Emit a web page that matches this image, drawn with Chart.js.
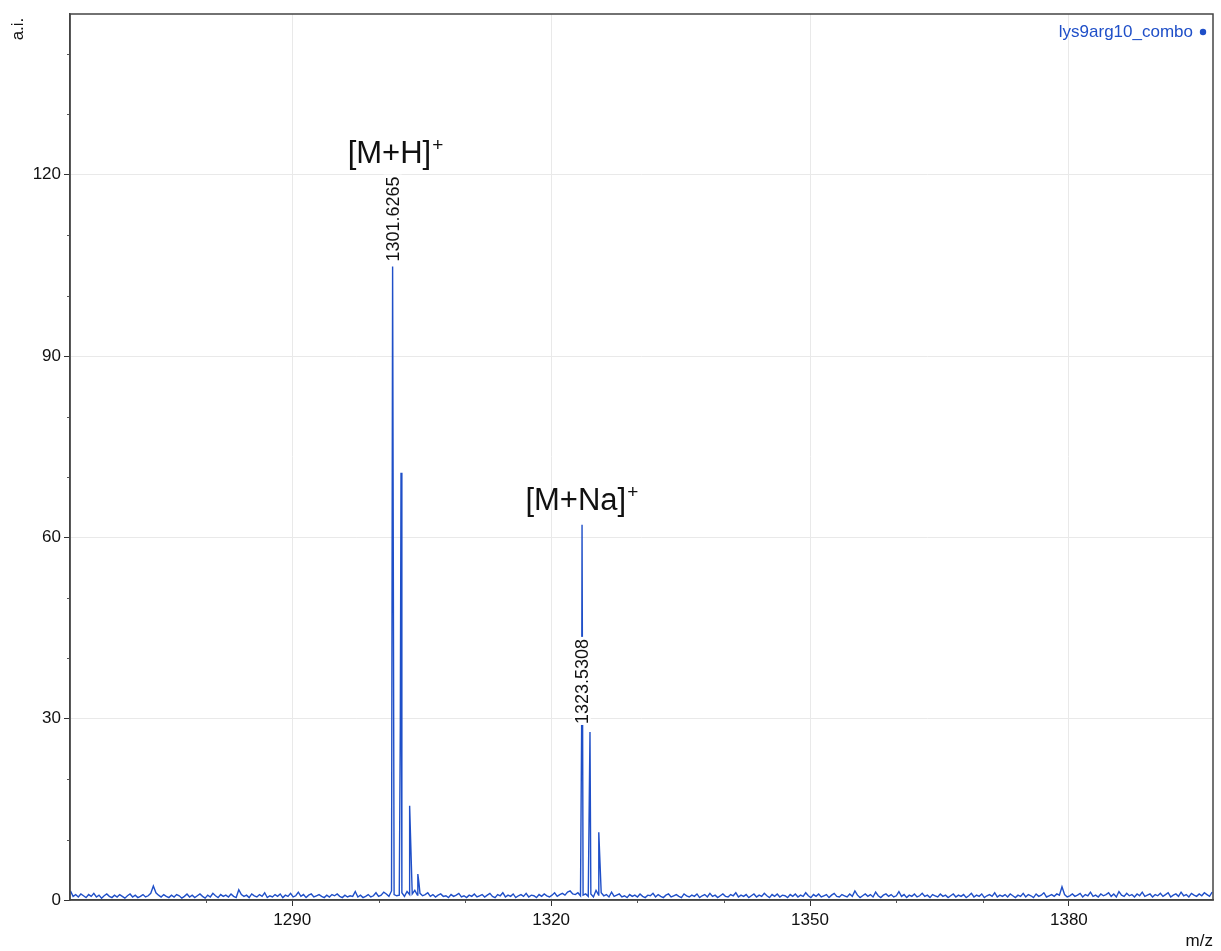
<!DOCTYPE html>
<html>
<head>
<meta charset="utf-8">
<title>lys9arg10_combo</title>
<script src="https://cdn.jsdelivr.net/npm/chart.js@4"></script>
<style>
  html, body { margin: 0; padding: 0; background: #fff; }
  canvas { display: block; }
</style>
</head>
<body>
<canvas id="spectrum" width="1221" height="951" style="width:1221px;height:951px"></canvas>
<script>
// baseline trace, sampled every 0.3 m/z starting at 1264.3
const noiseStart = 1264.3;
const noiseStep = 0.3;
const noiseIntensity = [
  1.5,0.6,0.9,0.5,1.0,0.7,0.4,0.9,0.6,1.1,0.5,0.8,0.3,0.7,1.0,0.6,0.4,0.8,0.5,0.9,
  0.6,0.3,0.7,1.0,0.5,0.8,0.4,0.6,0.9,0.5,0.7,1.1,2.3,1.2,0.8,0.5,0.9,0.6,0.4,0.8,
  0.5,0.9,0.7,0.3,0.6,1.0,0.5,0.8,0.4,0.7,1.0,0.6,0.3,0.8,0.5,1.1,0.7,0.4,0.9,0.6,
  0.8,0.5,1.0,0.6,0.4,1.7,0.9,0.6,0.8,0.4,1.0,0.7,0.5,0.9,0.6,1.2,0.4,0.7,0.5,0.9,
  0.6,1.0,0.4,0.8,0.6,1.1,0.5,0.7,1.3,0.6,0.9,0.4,0.8,1.0,0.5,0.7,0.9,0.6,0.4,0.8,
  0.5,0.9,0.7,1.0,0.6,0.4,0.8,0.5,0.7,0.6,1.4,0.5,0.8,0.4,0.6,0.9,0.5,0.7,1.2,0.6,
  0.8,1.3,1.0,0.6,1.5,0.9,0.7,0.8,1.2,0.6,1.4,0.9,1.0,1.6,0.8,1.1,0.7,0.9,1.2,0.6,
  0.9,0.5,0.8,1.0,0.6,0.7,0.4,0.9,0.6,0.8,1.1,0.5,0.7,0.4,0.8,0.6,1.0,0.5,0.7,0.9,
  0.5,0.8,1.1,0.6,0.4,0.9,0.7,1.2,0.5,0.8,0.6,1.0,0.4,0.7,0.9,0.6,1.1,0.5,0.8,0.7,
  0.4,0.9,0.6,1.0,0.7,0.5,0.8,1.2,0.6,0.9,1.1,0.8,1.3,1.5,1.0,0.9,1.2,0.7,0.8,1.0,
  0.6,1.0,0.5,1.6,0.8,1.2,0.7,0.9,0.5,1.3,0.6,0.8,1.0,0.5,0.7,0.4,0.9,0.6,0.8,0.5,
  1.0,0.6,0.4,0.8,0.7,1.1,0.5,0.9,0.6,0.4,0.8,1.0,0.5,0.7,0.9,0.6,0.4,1.0,0.7,0.5,
  0.8,0.6,1.0,0.4,0.7,0.9,0.5,1.1,0.6,0.8,0.4,0.7,1.0,0.6,0.5,0.9,0.7,1.2,0.5,0.8,
  0.6,0.9,0.4,0.7,1.0,0.5,0.8,0.6,1.1,0.7,0.4,0.9,0.6,1.0,0.5,0.8,0.7,0.4,0.9,0.6,
  1.0,0.5,0.8,0.6,1.2,0.7,0.4,0.9,0.6,1.0,0.5,0.7,0.9,0.4,0.8,1.1,0.6,0.5,0.9,0.7,
  0.5,1.0,0.6,1.5,0.8,0.4,0.7,1.0,0.6,0.9,0.5,1.3,0.7,0.4,0.8,1.0,0.6,0.9,0.5,0.7,
  1.4,0.6,0.9,0.4,0.8,0.6,1.0,0.5,0.7,1.1,0.6,0.8,0.4,0.9,0.7,0.5,1.0,0.6,0.8,0.4,
  0.7,1.0,0.5,0.8,0.6,0.9,0.4,0.7,1.1,0.5,0.8,0.6,1.0,0.4,0.7,0.9,0.6,1.2,0.5,0.8,
  0.6,0.9,0.5,1.0,0.7,0.4,0.8,0.6,1.1,0.5,0.9,0.7,0.4,1.0,0.6,0.8,1.2,0.5,0.7,0.9,
  0.6,1.0,0.8,2.2,0.9,0.5,0.7,1.0,0.6,0.8,1.1,0.5,0.9,0.7,1.3,0.6,0.8,0.5,1.0,0.7,
  0.9,1.2,0.6,1.0,0.5,1.4,0.8,0.6,1.1,0.7,0.9,0.5,1.0,0.7,1.3,0.6,0.8,1.0,0.5,0.9,
  0.7,1.1,0.6,0.9,1.2,0.5,0.8,1.0,0.6,1.3,0.7,0.9,0.5,1.1,0.8,0.6,1.0,0.7,1.2,0.9,
  0.6,1.3
];

// isotope peaks of the two ions
const peakMz        = [1301.6265, 1302.52, 1302.60, 1303.60, 1304.55, 1304.68, 1323.5308, 1323.58, 1324.50, 1325.52];
const peakIntensity = [104.8,     29.1,    70.7,    15.6,    4.3,     2.8,     28.3,      62.1,    27.8,    11.2];

// peaks carrying an m/z readout
const labelledMz = [1301.6265, 1323.5308];

// ion assignments
const ionNames = ['[M+H]', '[M+Na]'];
const ionMz = [1301.9, 1323.5];
const ionLevel = [122, 64.5];

const seriesName = 'lys9arg10_combo';
const xTitle = 'm/z';
const yTitle = 'a.i.';

const lineBlue = '#1f4fc8';
const fontFamily = '"Liberation Sans", Arial, Helvetica, sans-serif';

// merge the baseline samples and the peak apexes into one trace
const points = noiseIntensity.map((v, i) => ({ x: +(noiseStart + i * noiseStep).toFixed(2), y: v }));
peakMz.forEach((mz, i) => points.push({ x: mz, y: peakIntensity[i] }));
points.sort((a, b) => a.x - b.x);

const isMajor = v => Math.abs(v % 30) < 1e-6;
const isMinor = v => Math.abs(v % 10) < 1e-6 && !isMajor(v);

const decorations = {
  id: 'decorations',
  afterDraw(chart) {
    const c = chart.ctx;
    const area = chart.chartArea;
    const xs = chart.scales.x;
    const ys = chart.scales.y;
    c.save();

    // short minor tick marks every 10 units
    c.strokeStyle = '#555';
    c.lineWidth = 1;
    xs.ticks.forEach(t => {
      if (!isMinor(t.value)) return;
      const px = Math.round(xs.getPixelForValue(t.value)) + 0.5;
      c.beginPath(); c.moveTo(px, area.bottom); c.lineTo(px, area.bottom + 3); c.stroke();
    });
    ys.ticks.forEach(t => {
      if (!isMinor(t.value)) return;
      const py = Math.round(ys.getPixelForValue(t.value)) + 0.5;
      c.beginPath(); c.moveTo(area.left, py); c.lineTo(area.left - 3, py); c.stroke();
    });

    // m/z readouts standing on their peaks
    c.font = '18px ' + fontFamily;
    c.textBaseline = 'middle';
    c.textAlign = 'left';
    labelledMz.forEach(mz => {
      const idx = peakMz.indexOf(mz);
      const txt = mz.toFixed(4);
      const px = xs.getPixelForValue(mz);
      const py = ys.getPixelForValue(peakIntensity[idx]) - 5;
      const w = c.measureText(txt).width;
      c.save();
      c.translate(px, py);
      c.rotate(-Math.PI / 2);
      c.fillStyle = '#fff';
      c.fillRect(-1, -9, w + 3, 18);
      c.fillStyle = '#111';
      c.fillText(txt, 0, 1);
      c.restore();
    });

    // ion assignments with superscript charge
    ionNames.forEach((name, i) => {
      c.font = '31px ' + fontFamily;
      const wMain = c.measureText(name).width;
      c.font = '19px ' + fontFamily;
      const wSup = c.measureText('+').width;
      const cx = xs.getPixelForValue(ionMz[i]);
      const by = ys.getPixelForValue(ionLevel[i]);
      const x0 = cx - (wMain + wSup) / 2;
      c.fillStyle = '#111';
      c.textAlign = 'left';
      c.textBaseline = 'alphabetic';
      c.font = '31px ' + fontFamily;
      c.fillText(name, x0, by);
      c.font = '19px ' + fontFamily;
      c.fillText('+', x0 + wMain + 1, by - 12);
    });

    // series name with its marker in the top right corner
    c.font = '17px ' + fontFamily;
    c.fillStyle = lineBlue;
    c.textAlign = 'right';
    c.textBaseline = 'middle';
    c.fillText(seriesName, area.right - 20, area.top + 18);
    c.beginPath();
    c.arc(area.right - 10, area.top + 18, 3.2, 0, Math.PI * 2);
    c.fill();

    // axis titles
    c.fillStyle = '#111';
    c.font = '17px ' + fontFamily;
    c.save();
    c.translate(18, 29);
    c.rotate(-Math.PI / 2);
    c.textAlign = 'center';
    c.textBaseline = 'middle';
    c.fillText(yTitle, 0, 0);
    c.restore();
    c.textAlign = 'right';
    c.textBaseline = 'alphabetic';
    c.fillText(xTitle, area.right, 946);

    // frame
    c.strokeStyle = '#444';
    c.lineWidth = 1.5;
    c.strokeRect(area.left, area.top, area.right - area.left, area.bottom - area.top);
    c.restore();
  }
};

const ctx = document.getElementById('spectrum').getContext('2d');
const spectrumChart = new Chart(ctx, {
  type: 'line',
  data: {
    datasets: [{
      label: seriesName,
      data: points,
      borderColor: lineBlue,
      borderWidth: 1.4,
      pointRadius: 0,
      tension: 0,
      fill: false
    }]
  },
  options: {
    responsive: false,
    animation: false,
    layout: { padding: { top: 14, right: 8, left: 0, bottom: 0 } },
    plugins: { legend: { display: false }, tooltip: { enabled: false } },
    scales: {
      x: {
        type: 'linear',
        min: 1264.24,
        max: 1396.7,
        afterFit: s => { s.height = 51; },
        ticks: {
          stepSize: 10,
          autoSkip: false,
          maxRotation: 0,
          padding: 4,
          color: '#111',
          font: { family: fontFamily, size: 17 },
          callback: v => isMajor(v) ? v : ''
        },
        grid: {
          color: c => c.tick && isMajor(c.tick.value) ? '#e9e9e9' : 'transparent',
          tickColor: c => c.tick && isMajor(c.tick.value) ? '#333' : 'transparent',
          tickLength: 6,
          lineWidth: 1
        },
        border: { color: '#444', width: 1.5 }
      },
      y: {
        type: 'linear',
        min: 0,
        max: 146.6,
        afterFit: s => { s.width = 70; },
        ticks: {
          stepSize: 10,
          autoSkip: false,
          padding: 3,
          color: '#111',
          font: { family: fontFamily, size: 17 },
          callback: v => isMajor(v) ? v : ''
        },
        grid: {
          color: c => c.tick && isMajor(c.tick.value) && c.tick.value > 0 ? '#e9e9e9' : 'transparent',
          tickColor: c => c.tick && isMajor(c.tick.value) ? '#333' : 'transparent',
          tickLength: 6,
          lineWidth: 1
        },
        border: { color: '#444', width: 1.5 }
      }
    }
  },
  plugins: [decorations]
});
</script>
</body>
</html>
